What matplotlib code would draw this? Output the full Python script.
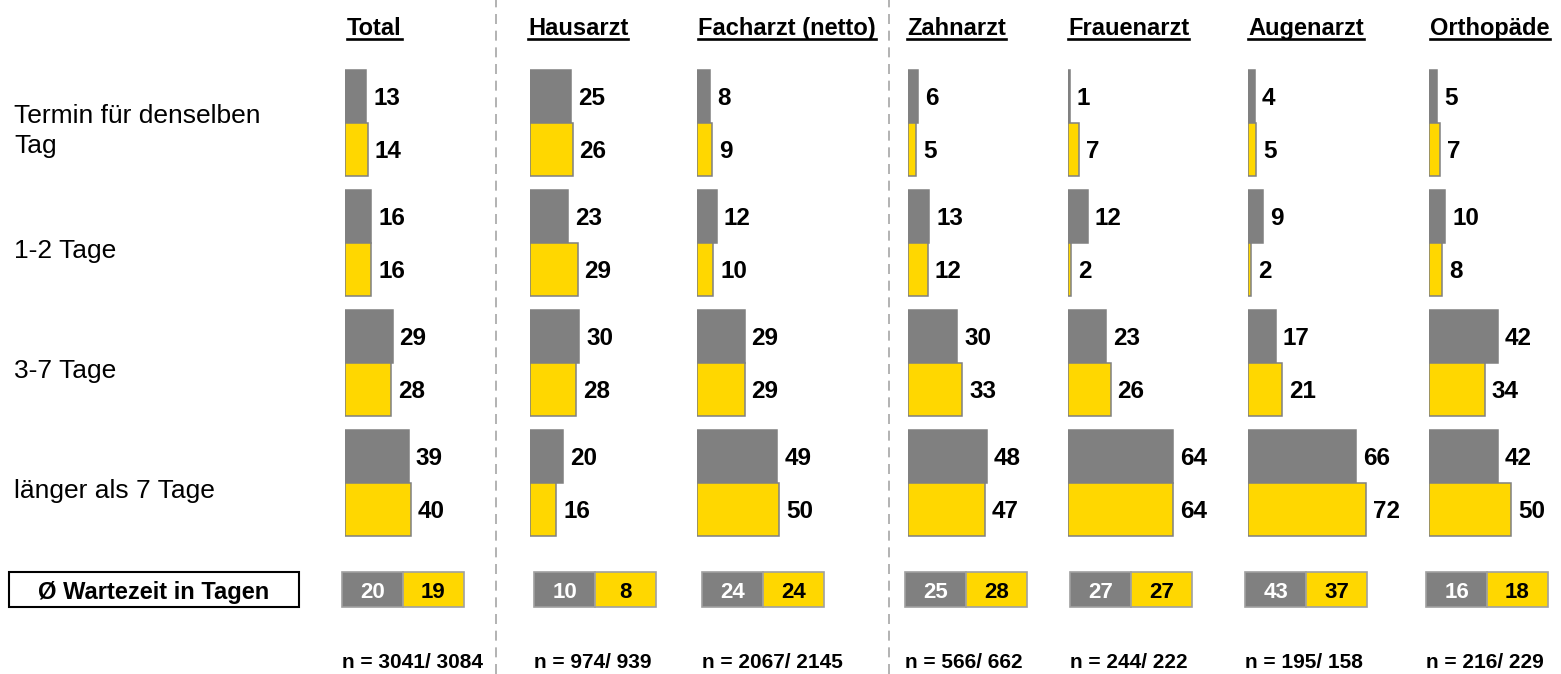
import matplotlib
matplotlib.use("Agg")
import matplotlib.pyplot as plt
from matplotlib.lines import Line2D
from matplotlib.patches import Rectangle

plt.rcParams['font.family'] = ['Liberation Sans', 'DejaVu Sans']

# data
categories = ["Termin für denselben\nTag", "1-2 Tage", "3-7 Tage", "länger als 7 Tage"]
groups = ["Total", "Hausarzt", "Facharzt (netto)", "Zahnarzt", "Frauenarzt", "Augenarzt", "Orthopäde"]

grey_vals = [
    [13, 16, 29, 39],
    [25, 23, 30, 20],
    [8, 12, 29, 49],
    [6, 13, 30, 48],
    [1, 12, 23, 64],
    [4, 9, 17, 66],
    [5, 10, 42, 42],
]
yellow_vals = [
    [14, 16, 28, 40],
    [26, 29, 28, 16],
    [9, 10, 29, 50],
    [5, 12, 33, 47],
    [7, 2, 26, 64],
    [5, 2, 21, 72],
    [7, 8, 34, 50],
]
avg_grey = [20, 10, 24, 25, 27, 43, 16]
avg_yellow = [19, 8, 24, 28, 27, 37, 18]
n_grey = [3041, 974, 2067, 566, 244, 195, 216]
n_yellow = [3084, 939, 2145, 662, 222, 158, 229]

GREY = '#808080'
YELLOW = '#FFD700'

# layout (pixels)
W, H = 1561, 674
bar_left = [345, 530, 697, 908, 1068, 1248, 1429]
box_left = [342, 534, 702, 905, 1070, 1245, 1426]
px_per_unit = 1.64
col_w = 125

fig = plt.figure(figsize=(W / 100, H / 100), dpi=100)


def fx(px):
    return px / W


def fy(py):
    return 1 - py / H


# bar panels: one unit in y = one row (120 px), row top at 70 px
top_px, bot_px = 60, 545
for g in range(len(groups)):
    ax = fig.add_axes([fx(bar_left[g]), fy(bot_px), col_w / W, (bot_px - top_px) / H])
    ax.set_xlim(0, col_w / px_per_unit)
    ax.set_ylim((bot_px - 70) / 120, (top_px - 70) / 120)
    ax.axis('off')
    for i in range(len(categories)):
        yg, yy = i + 0.22, i + 0.66
        ax.barh(yg, grey_vals[g][i], height=0.44, color=GREY, edgecolor=GREY, linewidth=1.1)
        ax.barh(yy, yellow_vals[g][i], height=0.44, color=YELLOW, edgecolor=GREY, linewidth=1.1)
        for v, y in [(grey_vals[g][i], yg), (yellow_vals[g][i], yy)]:
            ax.annotate(str(v), xy=(v, y), xytext=(5, 0), textcoords='offset points',
                        ha='left', va='center_baseline', fontsize=17.5, fontweight='bold',
                        annotation_clip=False)

    # average boxes
    bx = fig.add_axes([fx(box_left[g]), fy(607), 122 / W, 35 / H])
    bx.set_xlim(0, 2)
    bx.set_ylim(0, 1)
    bx.axis('off')
    bx.barh([0.5, 0.5], [1, 1], left=[0, 1], height=1, color=[GREY, YELLOW],
            edgecolor='#A0A0A0', linewidth=1.2, clip_on=False)
    bx.text(0.5, 0.5, str(avg_grey[g]), color='white', ha='center', va='center_baseline',
            fontsize=16, fontweight='bold')
    bx.text(1.5, 0.5, str(avg_yellow[g]), color='black', ha='center', va='center_baseline',
            fontsize=16, fontweight='bold')

    # sample sizes
    fig.text(fx(box_left[g]), fy(663), f"n = {n_grey[g]}/ {n_yellow[g]}", ha='left',
             va='center', fontsize=15, fontweight='bold')

# row labels
for i, cat in enumerate(categories):
    fig.text(fx(14), fy(70 + i * 120 + 61), cat, ha='left', va='center', fontsize=19,
             linespacing=1.36)

# average label box
fig.add_artist(Rectangle((fx(9), fy(607)), 290 / W, 35 / H, transform=fig.transFigure,
                         facecolor='white', edgecolor='black', linewidth=1.5))
fig.text(fx(154), fy(590), "Ø Wartezeit in Tagen", ha='center', va='center_baseline',
         fontsize=17, fontweight='bold')

# column headers, underlined
head_left = [347, 528, 698, 907, 1068, 1248, 1430]
heads = []
for g, name in enumerate(groups):
    heads.append(fig.text(fx(head_left[g]), fy(35), name, ha='left', va='baseline',
                          fontsize=17, fontweight='bold'))
fig.canvas.draw()
rend = fig.canvas.get_renderer()
for t in heads:
    bb = t.get_window_extent(rend)
    fig.add_artist(Line2D([bb.x0 / W, bb.x1 / W], [fy(38.5), fy(38.5)],
                          transform=fig.transFigure, color='black', linewidth=1.9))

# dashed separators
for xs in [496, 889]:
    fig.add_artist(Line2D([fx(xs), fx(xs)], [0, 1], transform=fig.transFigure,
                          color='#A6A6A6', linewidth=1.2, dashes=(6, 4)))

fig.savefig("out.png", dpi=100)
